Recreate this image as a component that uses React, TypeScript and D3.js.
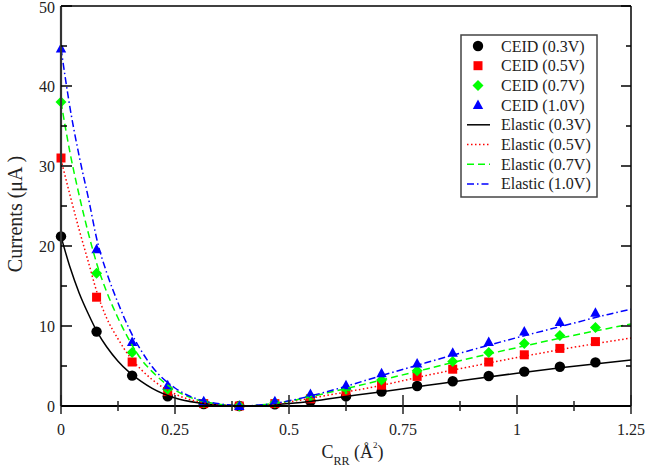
import React from "react";
import * as d3 from "d3";

// ---- data ----
const xPoints = [0, 0.078, 0.156, 0.234, 0.313, 0.391, 0.469, 0.547, 0.625, 0.703, 0.781, 0.859, 0.938, 1.016, 1.094, 1.172];
const ceid03 = [21.2, 9.3, 3.8, 1.2, 0.25, 0, 0.2, 0.6, 1.2, 1.8, 2.5, 3.1, 3.75, 4.3, 4.9, 5.45];
const ceid05 = [31.0, 13.6, 5.5, 1.8, 0.3, 0, 0.3, 0.9, 1.7, 2.6, 3.7, 4.6, 5.5, 6.4, 7.2, 8.05];
const ceid07 = [38.0, 16.6, 6.7, 2.1, 0.4, 0, 0.4, 1.2, 2.1, 3.25, 4.4, 5.55, 6.7, 7.8, 8.8, 9.8];
const ceid10 = [44.7, 19.6, 8.0, 2.6, 0.6, 0, 0.6, 1.5, 2.6, 4.1, 5.3, 6.65, 8.0, 9.3, 10.5, 11.65];

const xCurve = [0, 0.02, 0.04, 0.06, 0.08, 0.1, 0.125, 0.15, 0.175, 0.2, 0.25, 0.3, 0.35, 0.4, 0.45, 0.5, 0.55, 0.6, 0.7, 0.8, 0.9, 1.0, 1.1, 1.2, 1.25];
const elastic03 = [21.2, 17.3, 14.1, 11.5, 9.2, 7.4, 5.6, 4.2, 3.1, 2.2, 1.0, 0.4, 0.12, 0.0, 0.08, 0.3, 0.6, 1.0, 1.75, 2.55, 3.35, 4.1, 4.8, 5.45, 5.75];
const elastic05 = [30.8, 26.3, 22.0, 18.0, 14.0, 11.0, 8.4, 6.2, 4.6, 3.3, 1.5, 0.55, 0.15, 0.0, 0.15, 0.5, 1.0, 1.5, 2.55, 3.8, 4.95, 6.05, 7.1, 8.05, 8.5];
const elastic07 = [38.0, 31.6, 26.3, 21.6, 17.5, 14.3, 11.0, 8.2, 5.9, 4.3, 2.0, 0.75, 0.2, 0.0, 0.2, 0.6, 1.2, 1.85, 3.2, 4.6, 6.0, 7.3, 8.55, 9.7, 10.25];
const elastic10 = [44.7, 37.2, 31.2, 26.0, 20.5, 16.7, 12.9, 9.6, 7.0, 4.9, 2.25, 0.85, 0.25, 0.02, 0.2, 0.65, 1.3, 2.05, 3.75, 5.4, 7.0, 8.55, 10.0, 11.45, 12.1];

const xMajorTicks = [0, 0.25, 0.5, 0.75, 1, 1.25];
const xTickLabels = ["0", "0.25", "0.5", "0.75", "1", "1.25"];
const xMinorTicks = [0.125, 0.375, 0.625, 0.875, 1.125];
const yMajorTicks = [0, 10, 20, 30, 40, 50];
const yTickLabels = ["0", "10", "20", "30", "40", "50"];
const yMinorTicks = [5, 15, 25, 35, 45];

const markerSeries = [
  { name: "CEID (0.3V)", values: ceid03, color: "#000000", shape: "circle" },
  { name: "CEID (0.5V)", values: ceid05, color: "#ff0000", shape: "square" },
  { name: "CEID (0.7V)", values: ceid07, color: "#00ff00", shape: "diamond" },
  { name: "CEID (1.0V)", values: ceid10, color: "#0000ff", shape: "triangle" },
];
const lineSeries = [
  { name: "Elastic (0.3V)", values: elastic03, color: "#000000", dash: "none" },
  { name: "Elastic (0.5V)", values: elastic05, color: "#ff0000", dash: "1.5,2.5" },
  { name: "Elastic (0.7V)", values: elastic07, color: "#00ff00", dash: "7,4" },
  { name: "Elastic (1.0V)", values: elastic10, color: "#0000ff", dash: "7,3,1.5,3" },
];

const FONT = "'Liberation Serif', 'Times New Roman', serif";
const TXT = "#222";

function Marker({ shape, cx, cy, color }: { shape: string; cx: number; cy: number; color: string }) {
  if (shape === "circle") return <circle cx={cx} cy={cy} r={5.2} fill={color} />;
  if (shape === "square") return <rect x={cx - 4.5} y={cy - 4.5} width={9} height={9} fill={color} />;
  if (shape === "diamond")
    return <path d={`M${cx},${cy - 5.5}L${cx + 5.5},${cy}L${cx},${cy + 5.5}L${cx - 5.5},${cy}Z`} fill={color} />;
  return <path d={`M${cx},${cy - 5.5}L${cx + 5.2},${cy + 4}L${cx - 5.2},${cy + 4}Z`} fill={color} />;
}

export default function App() {
  const left = 61, right = 631, top = 6, bottom = 406;
  const x = d3.scaleLinear().domain([0, 1.25]).range([left, right]);
  const y = d3.scaleLinear().domain([0, 50]).range([bottom, top]);

  const line = d3
    .line<number>()
    .x((_, i) => x(xCurve[i]))
    .y((d) => y(d))
    .curve(d3.curveMonotoneX);

  const legendX = 461, legendY = 35, legendW = 136, legendH = 162;
  const rowY = (i: number) => 46 + i * 19.7;

  return (
    <svg width={646} height={470} style={{ position: "absolute", left: 0, top: 0, background: "#fff" }} fontFamily={FONT}>
      <defs>
        <clipPath id="plotclip">
          <rect x={left} y={top} width={right - left} height={bottom - top} />
        </clipPath>
      </defs>
      <rect x={0} y={0} width={646} height={470} fill="#fff" />

      {/* markers */}
      {markerSeries.map((s) => (
        <g key={s.name}>
          {s.values.map((v, i) => (
            <Marker key={i} shape={s.shape} cx={x(xPoints[i])} cy={y(v)} color={s.color} />
          ))}
        </g>
      ))}

      {/* lines */}
      <g clipPath="url(#plotclip)">
        {lineSeries.map((s) => (
          <path
            key={s.name}
            d={line(s.values) || ""}
            fill="none"
            stroke={s.color}
            strokeWidth={1.5}
            strokeDasharray={s.dash === "none" ? undefined : s.dash}
          />
        ))}
      </g>

      {/* frame */}
      <line x1={left} x2={right} y1={top} y2={top} stroke="#000" strokeWidth={1.5} />
      <line x1={right} x2={right} y1={top} y2={bottom} stroke="#000" strokeWidth={1.5} />
      <line x1={left} x2={right} y1={bottom} y2={bottom} stroke="#000" strokeWidth={2} />
      <line x1={left} x2={left} y1={top} y2={bottom} stroke="#333" strokeWidth={2.2} />

      {/* x ticks */}
      {xMajorTicks.map((t, i) => (
        <g key={"xm" + i}>
          <line x1={x(t)} x2={x(t)} y1={395} y2={414} stroke="#222" strokeWidth={1.5} />
          <text x={x(t)} y={435} textAnchor="middle" fontSize={16} fill={TXT}>
            {xTickLabels[i]}
          </text>
        </g>
      ))}
      {xMinorTicks.map((t, i) => (
        <line key={"xn" + i} x1={x(t)} x2={x(t)} y1={401} y2={411} stroke="#222" strokeWidth={1.5} />
      ))}

      {/* y ticks */}
      {yMajorTicks.map((t, i) => (
        <g key={"ym" + i}>
          <line x1={left} x2={left + 11} y1={y(t)} y2={y(t)} stroke="#000" strokeWidth={1.5} />
          <line x1={right} x2={right - 10} y1={y(t)} y2={y(t)} stroke="#000" strokeWidth={1.5} />
          <text x={55} y={Math.max(y(t) + 5.5, 12.5)} textAnchor="end" fontSize={16} fill={TXT}>
            {yTickLabels[i]}
          </text>
        </g>
      ))}
      {yMinorTicks.map((t, i) => (
        <g key={"yn" + i}>
          <line x1={left} x2={left + 6} y1={y(t)} y2={y(t)} stroke="#000" strokeWidth={1.5} />
          <line x1={right} x2={right - 5} y1={y(t)} y2={y(t)} stroke="#000" strokeWidth={1.5} />
        </g>
      ))}

      {/* axis titles */}
      <text x={321.5} y={458} fontSize={18} fill={TXT}>
        C
        <tspan fontSize={12} dy={7}>RR</tspan>
        <tspan fontSize={18} dy={-7}> (Å</tspan>
        <tspan fontSize={9} dy={-10}>2</tspan>
        <tspan fontSize={18} dy={10}>)</tspan>
      </text>
      <text transform="translate(22,214) rotate(-90)" textAnchor="middle" fontSize={20} fill={TXT}>
        Currents (μA<tspan dx={4}>)</tspan>
      </text>

      {/* legend */}
      <rect x={legendX} y={legendY} width={legendW} height={legendH} fill="#fff" stroke="#444" strokeWidth={1.5} />
      {markerSeries.map((s, i) => (
        <g key={"lm" + i}>
          <Marker shape={s.shape} cx={478} cy={rowY(i)} color={s.color} />
          <text x={501} y={rowY(i) + 5.5} fontSize={16} fill={TXT}>
            {s.name}
          </text>
        </g>
      ))}
      {lineSeries.map((s, i) => (
        <g key={"ll" + i}>
          <line
            x1={467}
            x2={490}
            y1={rowY(i + 4)}
            y2={rowY(i + 4)}
            stroke={s.color}
            strokeWidth={1.5}
            strokeDasharray={s.dash === "none" ? undefined : s.dash}
          />
          <text x={501} y={rowY(i + 4) + 5.5} fontSize={16} fill={TXT}>
            {s.name}
          </text>
        </g>
      ))}
    </svg>
  );
}
